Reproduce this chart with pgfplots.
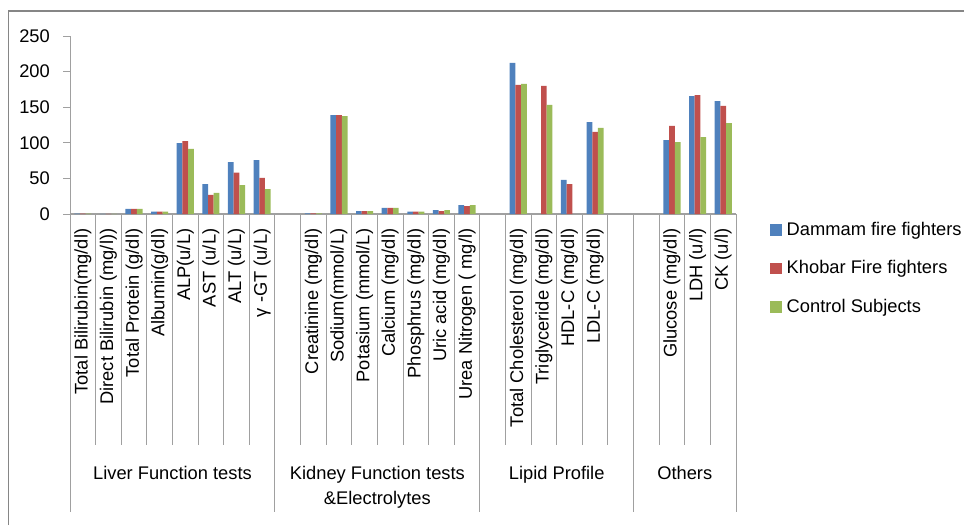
\documentclass[border=0pt]{standalone}
\usepackage{fontspec}
\setmainfont{Liberation Sans}
\usepackage{pgfplots}
\pgfplotsset{compat=1.18}
\definecolor{cblue}{RGB}{79,129,189}
\definecolor{cred}{RGB}{192,80,77}
\definecolor{cgreen}{RGB}{155,187,89}
\definecolor{axgray}{RGB}{160,160,160}
\definecolor{bordergray}{RGB}{134,134,134}
\newcommand\fs{\fontsize{18.3}{22}\selectfont}
\begin{document}
\begin{tikzpicture}
\path[use as bounding box] (0pt,0pt) rectangle (964pt,525pt);
\draw[bordergray, line width=0.9pt] (8.5pt,0pt) -- (8.5pt,514.3pt);
\draw[bordergray, line width=1.8pt] (8pt,514.3pt) -- (964pt,514.3pt);
\begin{axis}[
  at={(70pt,311pt)}, anchor=south west,
  scale only axis, width=666pt, height=178pt,
  xmin=-0.5, xmax=25.5, ymin=0, ymax=250,
  axis lines=left,
  axis line style={axgray, line width=1pt, -},
  x axis line style={line width=1.8pt},
  ytick={0,50,...,250},
  tick align=outside, major tick length=7pt,
  ytick style={axgray, line width=1pt},
  xtick={0,...,25}, xtick style={draw=none},
  xticklabels={Total Bilirubin(mg/dl), Direct Bilirubin (mg/l)), Total Protein (g/dl), Albumin(g/dl), ALP(u/L), AST (u/L), ALT (u/L), γ -GT (u/L), {}, Creatinine (mg/dl), Sodium(mmol/L), Potasium (mmol/L), Calcium (mg/dl), Phosphrus (mg/dl), Uric acid (mg/dl), Urea Nitrogen ( mg/l), {}, Total Cholesterol (mg/dl), Triglyceride (mg/dl), HDL-C (mg/dl), LDL-C (mg/dl), {}, {}, Glucose (mg/dl), LDH (u/l), CK (u/l)},
  xticklabel style={rotate=90, anchor=east, font=\fs, inner sep=0pt},
  xticklabel shift=7.5pt,
  yticklabel style={font=\fs, inner sep=0pt},
  yticklabel shift=13pt,
  /pgf/number format/assume math mode=true,
  ybar=0pt, bar width=5.7pt,
  clip=false,
  legend cell align=left,
  legend style={at={(1.0511,-0.045)}, anchor=north west, draw=none, fill=none,
    inner sep=0pt, row sep=21.5pt, font=\fs,
    nodes={inner sep=0pt, text height=13pt, text depth=4pt},
    /tikz/every odd column/.append style={column sep=5pt}},
  myleg/.style={legend image code/.code={\fill[##1] (0pt,-5pt) rectangle (11.5pt,6.5pt);}},
]
\addplot[fill=cblue, draw=none, myleg] coordinates {
(0,0.6) (1,0.2) (2,7.2) (3,3.5) (4,99.7) (5,42.1) (6,73.0) (7,75.8)
(9,0.9) (10,139.0) (11,4.2) (12,8.6) (13,3.5) (14,5.6) (15,12.6)
(17,212.1) (19,47.8) (20,129.2)
(23,103.9) (24,165.7) (25,158.7)};
\addplot[fill=cred, draw=none, myleg] coordinates {
(0,0.6) (1,0.2) (2,7.2) (3,3.5) (4,102.5) (5,26.7) (6,58.1) (7,50.6)
(9,0.9) (10,139.0) (11,4.2) (12,8.6) (13,3.5) (14,4.2) (15,11.2)
(17,181.2) (18,179.8) (19,42.1) (20,115.2)
(23,123.6) (24,167.1) (25,151.7)};
\addplot[fill=cgreen, draw=none, myleg] coordinates {
(0,0.5) (1,0.2) (2,7.2) (3,3.5) (4,91.3) (5,29.5) (6,40.7) (7,35.1)
(9,0.9) (10,137.6) (11,4.2) (12,8.6) (13,3.5) (14,5.6) (15,12.6)
(17,182.6) (18,153.1) (20,120.8)
(23,101.1) (24,108.1) (25,127.8)};
\legend{Dammam fire fighters, Khobar Fire fighters, Control Subjects}
\pgfplotsinvokeforeach{0.5,1.5,2.5,3.5,4.5,5.5,6.5,8.5,9.5,10.5,11.5,12.5,13.5,14.5,16.5,17.5,18.5,19.5,20.5,22.5,23.5,24.5}{
  \draw[axgray, line width=1pt] (axis cs:#1,0) -- ++(0pt,-231pt);
}
\pgfplotsinvokeforeach{-0.5,7.5,15.5,21.5,25.5}{
  \draw[axgray, line width=1pt] (axis cs:#1,0) -- ++(0pt,-298pt);
}
\node[anchor=base, font=\fs, inner sep=0pt] at ([yshift=-265pt]axis cs:3.5,0) {Liver Function tests};
\node[anchor=base, font=\fs, inner sep=0pt] at ([yshift=-265pt]axis cs:11.5,0) {Kidney Function tests};
\node[anchor=base, font=\fs, inner sep=0pt] at ([yshift=-290pt]axis cs:11.5,0) {\&Electrolytes};
\node[anchor=base, font=\fs, inner sep=0pt] at ([yshift=-265pt]axis cs:18.5,0) {Lipid Profile};
\node[anchor=base, font=\fs, inner sep=0pt] at ([yshift=-265pt]axis cs:23.5,0) {Others};
\end{axis}
\end{tikzpicture}
\end{document}
